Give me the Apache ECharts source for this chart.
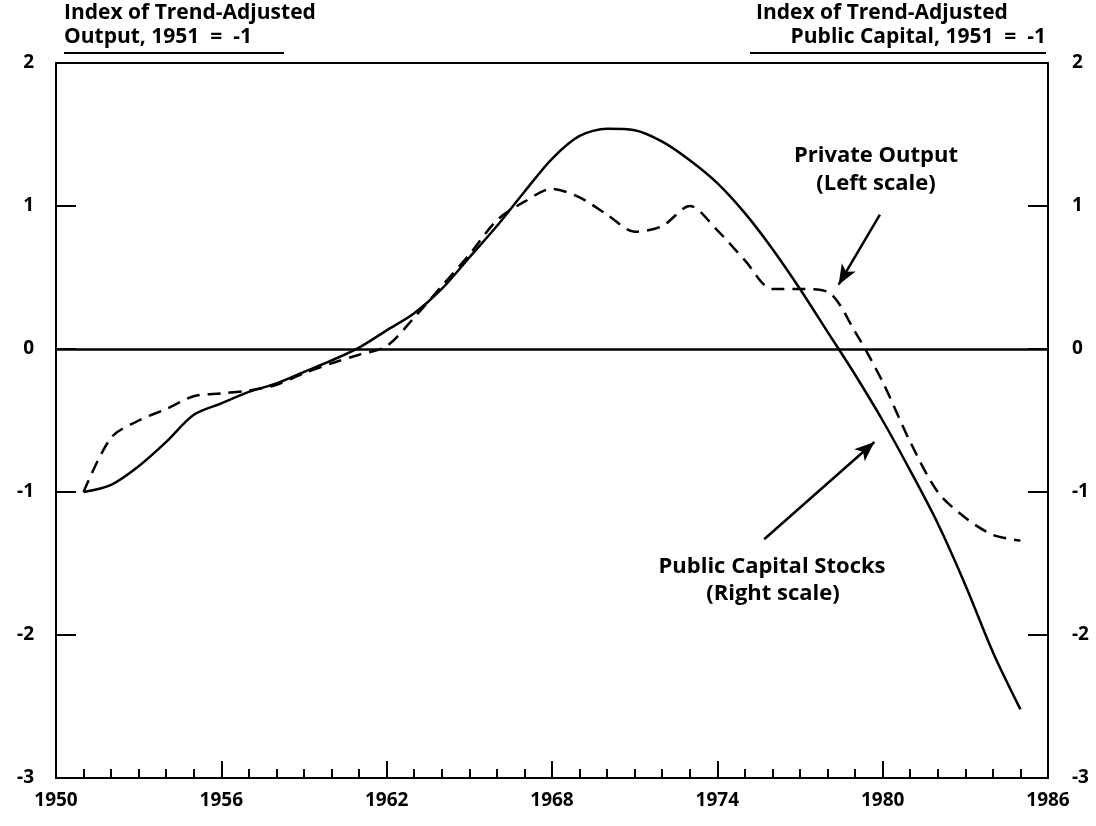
<!DOCTYPE html>
<html>
<head>
<meta charset="utf-8">
<script src="https://cdn.jsdelivr.net/npm/echarts@6/dist/echarts.min.js"></script>
<style>html,body{margin:0;padding:0;background:#fff;}#c{width:1096px;height:826px;}</style>
</head>
<body>
<div id="c"></div>
<script>
const years = [1951,1952,1953,1954,1955,1956,1957,1958,1959,1960,1961,1962,1963,1964,1965,1966,1967,1968,1969,1970,1971,1972,1973,1974,1975,1976,1977,1978,1979,1980,1981,1982,1983,1984,1985];
const publicCapital = [-1.0,-0.95,-0.82,-0.65,-0.46,-0.38,-0.3,-0.24,-0.16,-0.08,0.01,0.13,0.25,0.42,0.64,0.86,1.1,1.33,1.49,1.54,1.53,1.45,1.32,1.16,0.95,0.7,0.42,0.12,-0.18,-0.5,-0.85,-1.22,-1.65,-2.12,-2.52];
const privateOutput = [-1.0,-0.62,-0.5,-0.42,-0.33,-0.31,-0.29,-0.25,-0.17,-0.1,-0.04,0.02,0.22,0.44,0.66,0.9,1.03,1.12,1.06,0.94,0.82,0.86,1.0,0.83,0.62,0.42,0.42,0.4,0.12,-0.23,-0.65,-1.0,-1.18,-1.3,-1.34];
const xTicks = [1950,1956,1962,1968,1974,1980,1986];
const yTicks = [-3,-2,-1,0,1,2];

const FONT = '"Open Sans", "DejaVu Sans", sans-serif';
const chart = echarts.init(document.getElementById('c'));
const pair = arr => years.map((y,i)=>[y,arr[i]]);
const axisTxt = {color:'#000', fontWeight:'bold', fontSize:19, fontFamily:FONT, formatter: v => String(v)};

chart.setOption({
  animation:false,
  backgroundColor:'#fff',
  grid:{left:56, right:48, top:63, bottom:48, show:true, borderColor:'#000', borderWidth:2, backgroundColor:'transparent'},
  xAxis:{type:'value', min:xTicks[0], max:xTicks[xTicks.length-1], interval:6,
    axisLine:{onZero:false, lineStyle:{color:'#000', width:2}},
    axisTick:{inside:true, length:17, lineStyle:{color:'#000', width:2}},
    minorTick:{show:true, splitNumber:6, length:9, lineStyle:{color:'#000', width:2}},
    splitLine:{show:false},
    axisLabel:Object.assign({margin:13}, axisTxt)},
  yAxis:[
    {type:'value', min:yTicks[0], max:yTicks[yTicks.length-1], interval:1, position:'left',
      axisLine:{show:true, onZero:false, lineStyle:{color:'#000', width:2}},
      axisTick:{show:true, inside:true, length:20, lineStyle:{color:'#000', width:2}},
      splitLine:{show:false},
      axisLabel:Object.assign({margin:22}, axisTxt)},
    {type:'value', min:yTicks[0], max:yTicks[yTicks.length-1], interval:1, position:'right',
      axisLine:{show:true, onZero:false, lineStyle:{color:'#000', width:2}},
      axisTick:{show:true, inside:true, length:20, lineStyle:{color:'#000', width:2}},
      splitLine:{show:false},
      axisLabel:Object.assign({margin:24}, axisTxt)}
  ],
  series:[
    {name:'Public Capital Stocks', type:'line', yAxisIndex:1, data:pair(publicCapital), smooth:0.3,
      showSymbol:false, lineStyle:{color:'#000', width:2.5},
      markLine:{silent:true, symbol:['none','arrow'], symbolSize:[12,20], label:{show:false},
        lineStyle:{color:'#000', width:2.5, type:'solid'},
        data:[[{coord:[1975.7,-1.33]},{coord:[1979.7,-0.65]}]]}},
    {name:'Private Output', type:'line', yAxisIndex:0, data:pair(privateOutput), smooth:0.3,
      showSymbol:false, lineStyle:{color:'#000', width:2.5, type:[13,8]},
      markLine:{silent:true, symbol:['none','arrow'], symbolSize:[12,20], label:{show:false},
        lineStyle:{color:'#000', width:2.5, type:'solid'},
        data:[
          [{coord:[1979.9,0.94]},{coord:[1978.4,0.45]}],
          [{coord:[1950,0], symbol:'none'},{coord:[1986,0], symbol:'none'}]
        ]}}
  ],
  graphic:[
    {type:'text', left:64, top:3, style:{text:'Index of Trend-Adjusted', fill:'#000', font:'bold 21px '+FONT}},
    {type:'text', left:64, top:27, style:{text:'Output, 1951  =  -1', fill:'#000', font:'bold 21px '+FONT}},
    {type:'line', shape:{x1:64, y1:53, x2:284, y2:53}, style:{stroke:'#000', lineWidth:2}},
    {type:'text', left:756, top:3, style:{text:'Index of Trend-Adjusted', fill:'#000', font:'bold 21px '+FONT}},
    {type:'text', right:50, top:27, style:{text:'Public Capital, 1951  =  -1', fill:'#000', font:'bold 21px '+FONT}},
    {type:'line', shape:{x1:750, y1:53, x2:1046, y2:53}, style:{stroke:'#000', lineWidth:2}},
    {type:'text', x:876, y:156, style:{text:'Private Output', fill:'#000', font:'bold 22px '+FONT, align:'center', verticalAlign:'middle'}},
    {type:'text', x:876, y:184, style:{text:'(Left scale)', fill:'#000', font:'bold 22px '+FONT, align:'center', verticalAlign:'middle'}},
    {type:'text', x:772, y:567, style:{text:'Public Capital Stocks', fill:'#000', font:'bold 22px '+FONT, align:'center', verticalAlign:'middle'}},
    {type:'text', x:773, y:594, style:{text:'(Right scale)', fill:'#000', font:'bold 22px '+FONT, align:'center', verticalAlign:'middle'}}
  ]
});
</script>
</body>
</html>
